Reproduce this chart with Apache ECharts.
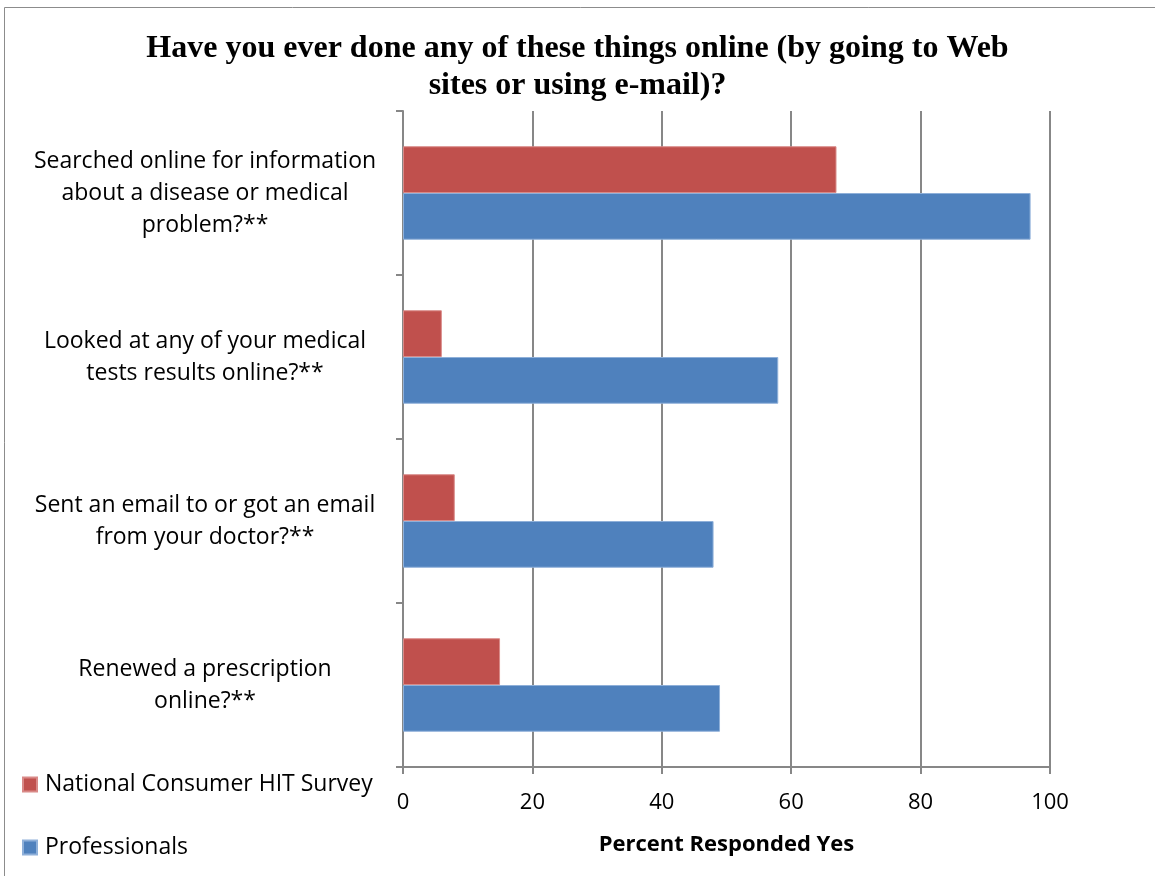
<!DOCTYPE html>
<html>
<head>
<meta charset="utf-8">
<style>
  html, body { margin: 0; padding: 0; background: #fff; }
  #chart { width: 1155px; height: 876px; }
</style>
<script src="https://cdn.jsdelivr.net/npm/echarts@6/dist/echarts.min.js"></script>
</head>
<body>
<div id="chart"></div>
<script>
// Survey questions, top to bottom
const categories = [
  'Searched online for information\nabout a disease or medical\nproblem?**',
  'Looked at any of your medical\ntests results online?**',
  'Sent an email to or got an email\nfrom your doctor?**',
  'Renewed a prescription\nonline?**'
];
// Percent answering yes
const consumerValues = [67, 6, 8, 15];
const professionalValues = [97, 58, 48, 49];
const xTicks = [0, 20, 40, 60, 80, 100];

const seriesNames = ['National Consumer HIT Survey', 'Professionals'];
const titleText = 'Have you ever done any of these things online (by going to Web\nsites or using e-mail)?';
const axisTitle = 'Percent Responded Yes';

const axisGray = '#878787';
const labelFont = '"Open Sans", Lato, sans-serif';

const chart = echarts.init(document.getElementById('chart'), null, { renderer: 'canvas' });

chart.setOption({
  animation: false,
  backgroundColor: '#ffffff',
  title: {
    text: titleText,
    left: 'center',
    top: 25,
    textStyle: {
      fontFamily: '"Liberation Serif", "Times New Roman", serif',
      fontWeight: 'bold',
      fontSize: 32,
      lineHeight: 37,
      color: '#000'
    }
  },
  legend: {
    orient: 'vertical',
    left: 17,
    top: 768,
    itemWidth: 14,
    itemHeight: 14,
    itemGap: 40,
    icon: 'rect',
    data: seriesNames,
    textStyle: { fontFamily: labelFont, fontSize: 23, color: '#000', padding: [0, 0, 0, 3] }
  },
  graphic: [{
    type: 'rect',
    shape: { x: 4.5, y: 7.5, width: 1200, height: 1000 },
    style: { fill: 'none', stroke: '#8c8c8c', lineWidth: 1 },
    silent: true,
    z: -1
  }],
  grid: { left: 403, right: 105, top: 111, bottom: 109, containLabel: false },
  xAxis: {
    type: 'value',
    min: 0,
    max: 100,
    interval: 20,
    name: axisTitle,
    nameLocation: 'middle',
    nameGap: 67,
    nameTextStyle: { fontFamily: labelFont, fontWeight: 'bold', fontSize: 22, color: '#000' },
    axisLine: { show: true, lineStyle: { color: axisGray, width: 2 } },
    axisTick: { show: true, length: 7, lineStyle: { color: axisGray, width: 2 } },
    axisLabel: {
      margin: 25,
      fontFamily: labelFont,
      fontSize: 22,
      color: '#000',
      formatter: v => (xTicks.includes(v) ? String(v) : '')
    },
    splitLine: { show: true, lineStyle: { color: axisGray, width: 2 } }
  },
  yAxis: {
    type: 'category',
    inverse: true,
    data: categories,
    axisLine: { show: true, lineStyle: { color: axisGray, width: 2 } },
    axisTick: { show: true, length: 7, alignWithLabel: false, lineStyle: { color: axisGray, width: 2 } },
    axisLabel: {
      align: 'center',
      margin: 198,
      fontFamily: labelFont,
      fontSize: 23,
      lineHeight: 32,
      color: '#000'
    },
    splitLine: { show: false }
  },
  series: [
    {
      name: seriesNames[0],
      type: 'bar',
      data: consumerValues,
      barGap: '0%',
      barCategoryGap: '43%',
      itemStyle: { color: '#C0504D', borderColor: '#d98a88', borderWidth: 1 }
    },
    {
      name: seriesNames[1],
      type: 'bar',
      data: professionalValues,
      barGap: '0%',
      barCategoryGap: '43%',
      itemStyle: { color: '#4F81BD', borderColor: '#8fb0d9', borderWidth: 1 }
    }
  ]
});
</script>
</body>
</html>
